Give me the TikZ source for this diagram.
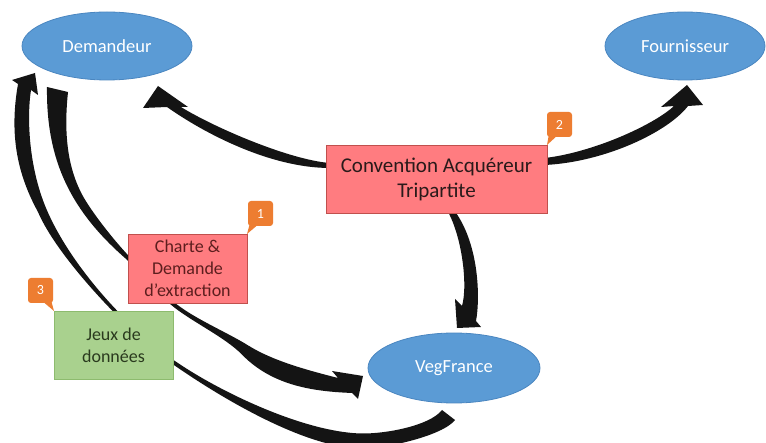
\documentclass[tikz,border=0pt]{standalone}
\usepackage{fontspec}
\setmainfont{Carlito}
\usetikzlibrary{shapes.geometric}
\definecolor{ellblue}{HTML}{5B9BD5}
\definecolor{ellborder}{HTML}{4A86C0}
\definecolor{boxred}{HTML}{FF7C80}
\definecolor{redborder}{HTML}{C0504D}
\definecolor{boxgreen}{HTML}{A9D18E}
\definecolor{greenborder}{HTML}{8DBB6E}
\definecolor{callorange}{HTML}{ED7D31}
\definecolor{arrowblack}{HTML}{141414}
\definecolor{redtext}{HTML}{5C1E1E}
\definecolor{greentext}{HTML}{2A3A1E}
\definecolor{darktext}{HTML}{2A1A1A}
\begin{document}
\begin{tikzpicture}[x=1pt,y=-1pt,
  ell/.style={ellipse, fill=ellblue, draw=ellborder, line width=0.8pt, inner sep=0pt,
    text=white, font=\fontsize{18.5}{22}\selectfont},
  redbox/.style={rectangle, fill=boxred, draw=redborder, line width=0.8pt, inner sep=0pt, align=center},
  greenbox/.style={rectangle, fill=boxgreen, draw=greenborder, line width=0.8pt, inner sep=0pt, align=center,
    text=greentext, font=\fontsize{18}{22}\selectfont},
  callout/.style={rectangle, rounded corners=3pt, fill=callorange, text=white,
    minimum width=25pt, minimum height=25pt, inner sep=0pt, font=\fontsize{14}{16}\selectfont},
  calltail/.style={fill=callorange},
  arr/.style={fill=arrowblack}]
\useasboundingbox (0,0) rectangle (766,443);
\clip (0,0) rectangle (766,443);
\fill[white] (0,0) rectangle (766,443);

% arrow Convention -> Demandeur
\fill[arr] (330,163) .. controls (290,160) and (215,128) .. (181,107)
  -- (188,107) -- (158,86) -- (143,108) -- (167,107)
  .. controls (203.9,133.1) and (270,168) .. (330,168) -- cycle;
% arrow Convention -> Fournisseur
\fill[arr] (545,165) .. controls (605,162) and (668,132) .. (688,106)
  -- (703,105) -- (687,85) -- (661,107) -- (674,106)
  .. controls (655,124) and (595,152) .. (545,158) -- cycle;
% arrow Convention -> VegFrance
\fill[arr] (447,210) .. controls (462,236) and (468,285) .. (462,306)
  -- (455,299) -- (457,328) -- (481,327) -- (476,321)
  .. controls (480,300) and (480,245) .. (454,210) -- cycle;
% arrow Demandeur -> VegFrance (Charte)
\fill[arr] (47,87) .. controls (46,162) and (72,212) .. (126.6,259.4)
  .. controls (139,272.4) and (157,292.8) .. (170.7,304.5)
  .. controls (189.7,320.8) and (224.6,336.7) .. (242.1,354.7)
  .. controls (273.6,387.1) and (317,391.5) .. (352,393)
  -- (358,399) -- (363,376) -- (332,371) -- (338,378)
  .. controls (308,370.3) and (273.4,361.2) .. (247.9,345.3)
  .. controls (226.6,332) and (192.3,317.8) .. (173.3,301.5)
  .. controls (159.6,289.8) and (141.8,269.6) .. (129.4,256.6)
  .. controls (115.6,242.2) and (93.8,215) .. (83.8,197.6)
  .. controls (66.3,167.1) and (64,130) .. (68,92) -- cycle;
% arrow VegFrance -> Demandeur (Jeux)
\fill[arr] (442,410) .. controls (429.8,425.8) and (385.5,434) .. (360.5,433.5)
  .. controls (300.5,431.5) and (215,389) .. (174.1,360.4)
  .. controls (124.9,326) and (69.4,263.6) .. (46.1,208.3)
  .. controls (28,165) and (27,115) .. (31,90)
  -- (38,95) -- (35,73) -- (12,80) -- (18,84)
  .. controls (10,130) and (15,170) .. (37.9,211.8)
  .. controls (57.4,257.9) and (130.9,334.9) .. (171.9,363.6)
  .. controls (212.9,392.3) and (299.5,446.5) .. (359.5,448.5)
  .. controls (385,449) and (442.8,435.8) .. (455,420) -- cycle;

% ellipses
\node[ell, minimum width=170pt, minimum height=68pt] (dem) at (107,46) {Demandeur};
\node[ell, minimum width=160pt, minimum height=68pt] (four) at (685,46) {Fournisseur};
\node[ell, minimum width=172pt, minimum height=70pt] (veg) at (454,368) {VegFrance};

% boxes
\node[redbox, minimum width=221pt, minimum height=68pt, text=darktext,
  font=\fontsize{21}{25}\selectfont] (conv) at (436.5,179) {Convention Acquéreur\\Tripartite};
\node[redbox, minimum width=119pt, minimum height=69pt, text=redtext,
  font=\fontsize{18}{22}\selectfont] (charte) at (187.5,268.5) {Charte \&\\Demande\\d’extraction};
\node[greenbox, minimum width=119pt, minimum height=68pt] (jeux) at (113.5,345) {Jeux de\\données};

% callouts
\fill[calltail] (250,223) -- (260,223) -- (247,234) -- cycle;
\node[callout] (c1) at (260.5,213.5) {1};
\fill[calltail] (549,134) -- (559,134) -- (547,145) -- cycle;
\node[callout] (c2) at (559.5,124.5) {2};
\fill[calltail] (41,300) -- (51,300) -- (54,311) -- cycle;
\node[callout] (c3) at (40.5,290.5) {3};
\end{tikzpicture}
\end{document}
